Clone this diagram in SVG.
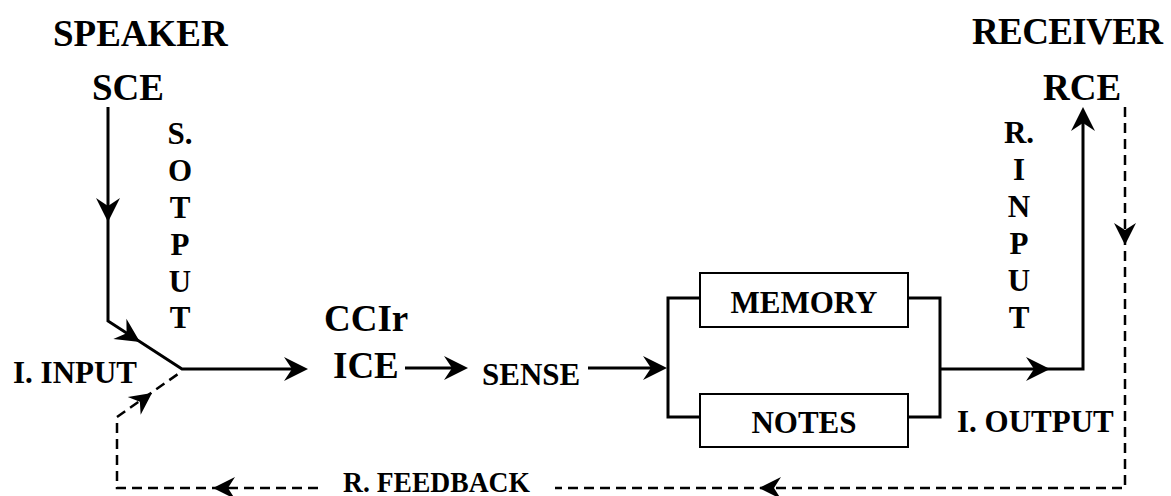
<svg xmlns="http://www.w3.org/2000/svg" xmlns:xlink="http://www.w3.org/1999/xlink" width="1171" height="496" viewBox="0 0 1171 496">
<style>
text{font-family:"Liberation Serif","Times New Roman",serif;font-weight:bold;fill:#000}
.big{font-size:37px}
.mid{font-size:31px}
.v{font-size:31px;text-anchor:middle}
.solid{fill:none;stroke:#000;stroke-width:3}
.dash{fill:none;stroke:#000;stroke-width:2.5;stroke-dasharray:10 6}
.box{fill:#fff;stroke:#000;stroke-width:2}
</style>
<defs>
<path id="ah" d="M0,0 L-24,-12 L-16,0 L-24,12 Z" fill="#000"/>
<path id="ahs" d="M0,0 L-22,-11 L-15,0 L-22,11 Z" fill="#000"/>
</defs>
<rect width="1171" height="496" fill="#fff"/>

<g id="speaker"><text class="big" x="53" y="46">SPEAKER</text></g>
<g id="sce"><text class="big" x="92" y="100">SCE</text></g>
<g id="s-output-label">
<text class="v" x="180" y="144">S.</text>
<text class="v" x="180" y="181">O</text>
<text class="v" x="180" y="218">T</text>
<text class="v" x="180" y="255">P</text>
<text class="v" x="180" y="292">U</text>
<text class="v" x="180" y="328">T</text>
</g>
<g id="i-input"><text class="mid" x="13" y="383">I. INPUT</text></g>
<g id="ccir"><text class="big" x="324" y="331">CCIr</text></g>
<g id="ice"><text class="big" x="333" y="378">ICE</text></g>
<g id="sense"><text class="mid" x="482" y="385">SENSE</text></g>
<g id="memory"><rect class="box" x="700" y="273" width="208" height="54"/><text class="mid" x="804" y="313" text-anchor="middle">MEMORY</text></g>
<g id="notes"><rect class="box" x="700" y="394" width="208" height="53"/><text class="mid" x="804" y="433" text-anchor="middle">NOTES</text></g>
<g id="i-output"><text class="mid" x="957" y="432">I. OUTPUT</text></g>
<g id="receiver"><text class="big" x="972" y="44" textLength="191">RECEIVER</text></g>
<g id="rce"><text class="big" x="1043" y="100">RCE</text></g>
<g id="r-input-label">
<text class="v" x="1019" y="143">R.</text>
<text class="v" x="1019" y="180">I</text>
<text class="v" x="1019" y="217">N</text>
<text class="v" x="1019" y="254">P</text>
<text class="v" x="1019" y="291">U</text>
<text class="v" x="1019" y="328">T</text>
</g>
<g id="r-feedback"><text x="343" y="492" font-size="29" textLength="187" lengthAdjust="spacingAndGlyphs">R. FEEDBACK</text></g>

<g id="connectors">
<path class="solid" d="M108,107 L108,321 L182,369 L300,369"/>
<use xlink:href="#ah" transform="translate(108,222) rotate(90)"/>
<use xlink:href="#ah" transform="translate(140,342) rotate(33)"/>
<use xlink:href="#ah" transform="translate(308,369)"/>
<path class="solid" d="M405,368 L462,368"/>
<use xlink:href="#ah" transform="translate(468,368)"/>
<path class="solid" d="M588,368 L662,368"/>
<use xlink:href="#ah" transform="translate(667,368)"/>
<path class="solid" d="M700,298 L668,298 L668,417 L700,417"/>
<path class="solid" d="M908,298 L940,298 L940,417 L908,417"/>
<path class="solid" d="M940,369 L1083,369 L1083,112"/>
<use xlink:href="#ah" transform="translate(1050,369)"/>
<use xlink:href="#ah" transform="translate(1083,107) rotate(-90)"/>
<path class="dash" d="M1125,107 L1125,488 L555,488"/>
<path class="dash" d="M318,488 L117,488 L117,417 L178,374"/>
<use xlink:href="#ahs" transform="translate(1125,245) rotate(90)"/>
<use xlink:href="#ahs" transform="translate(759,488) rotate(180)"/>
<use xlink:href="#ahs" transform="translate(213,488) rotate(180)"/>
<use xlink:href="#ahs" transform="translate(152,393) rotate(-36)"/>
</g>
</svg>
